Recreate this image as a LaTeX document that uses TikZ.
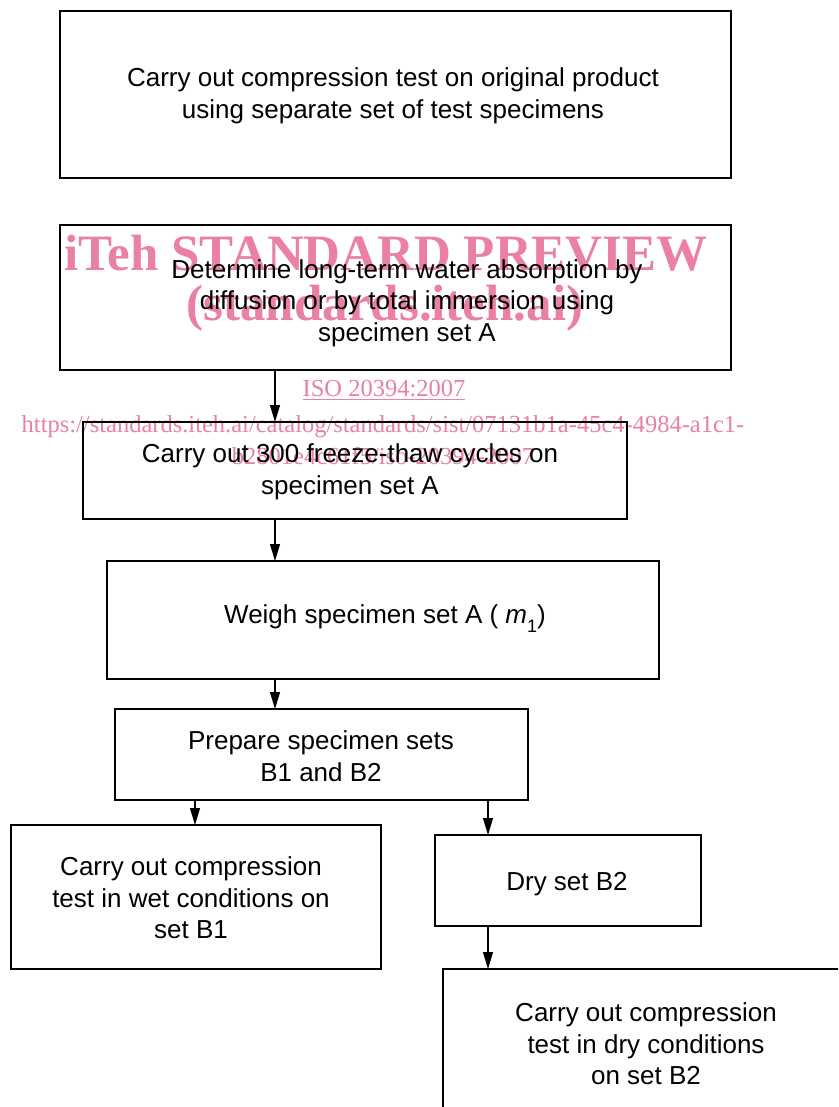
\documentclass[tikz,border=0pt]{standalone}
\usepackage{fontspec}
\setmainfont{Liberation Sans}
\newfontfamily\wmfont{Liberation Serif}
\usetikzlibrary{arrows.meta}
\definecolor{wmpink}{RGB}{234,128,164}
\tikzset{
  box/.style={draw=black, line width=2.9pt, inner sep=0pt, outer sep=0pt, rectangle},
  txt/.style={align=center, inner sep=0pt, font=\fontsize{26}{31.5}\selectfont},
  arr/.style={line width=1.2pt, -{Triangle[length=17pt,width=10pt]}},
  wmbig/.style={text=wmpink, inner sep=0pt, font=\wmfont\bfseries\fontsize{51}{56}\selectfont},
  wmsmall/.style={text=wmpink, inner sep=0pt, align=center, font=\wmfont\fontsize{24.5}{32}\selectfont},
}
\begin{document}
\begin{tikzpicture}[x=1pt,y=-1pt]
\clip (0,0) rectangle (838,1107);
\fill[white] (0,0) rectangle (838,1107);
% watermark
\node[wmbig] (w1) at (386,253) {iTeh STANDARD PREVIEW};
\node[wmbig] (w2) at (385,308) {(standards.iteh.ai)};
\node[wmsmall] (w3) at (384,390) {\underline{ISO 20394:2007}};
\node[wmsmall] (w4) at (383,440) {https://standards.iteh.ai/catalog/standards/sist/07131b1a-45c4-4984-a1c1-\\b2801e4c61f5/iso-20394-2007};
% boxes
\node[box, minimum width=671pt, minimum height=167pt] (b1) at (395.5,94.5) {};
\node[box, minimum width=671pt, minimum height=145pt] (b2) at (395.5,297.5) {};
\node[box, minimum width=544pt, minimum height=97pt] (b3) at (355,470.5) {};
\node[box, minimum width=552pt, minimum height=118pt] (b4) at (383,620) {};
\node[box, minimum width=413pt, minimum height=91pt] (b5) at (321.5,754.5) {};
\node[box, minimum width=370pt, minimum height=144pt] (b6) at (196,897) {};
\node[box, minimum width=266pt, minimum height=91pt] (b7) at (568,880.5) {};
\node[box, minimum width=420pt, minimum height=170pt] (b8) at (653,1054) {};
% texts
\node[txt] (t1) at (393,96) {Carry out compression test on original product\\using separate set of test specimens};
\node[txt] (t2) at (407,303) {Determine long-term water absorption by\\diffusion or by total immersion using\\specimen set A};
\node[txt] (t3) at (350,472) {Carry out 300 freeze-thaw cycles on\\specimen set A};
\node[txt] (t4) at (385,619) {Weigh specimen set A ( \textit{m}\raisebox{-0.35em}{\fontsize{18}{20}\selectfont 1})};
\node[txt] (t5) at (321,756) {Prepare specimen sets\\B1 and B2};
\node[txt] (t6) at (191,898) {Carry out compression\\test in wet conditions on\\set B1};
\node[txt] (t7) at (567,884) {Dry set B2};
\node[txt] (t8) at (646,1044) {Carry out compression\\test in dry conditions\\on set B2};
% connector columns
\coordinate (cA) at (275,0);
\coordinate (cB) at (195,0);
\coordinate (cC) at (488,0);
\draw[arr] (b2.south -| cA) -- (b3.north -| cA);
\draw[arr] (b3.south -| cA) -- (b4.north -| cA);
\draw[arr] (b4.south -| cA) -- (b5.north -| cA);
\draw[arr] (b5.south -| cB) -- (b6.north -| cB);
\draw[arr] (b5.south -| cC) -- (b7.north -| cC);
\draw[arr] (b7.south -| cC) -- (b8.north -| cC);
\end{tikzpicture}
\end{document}
